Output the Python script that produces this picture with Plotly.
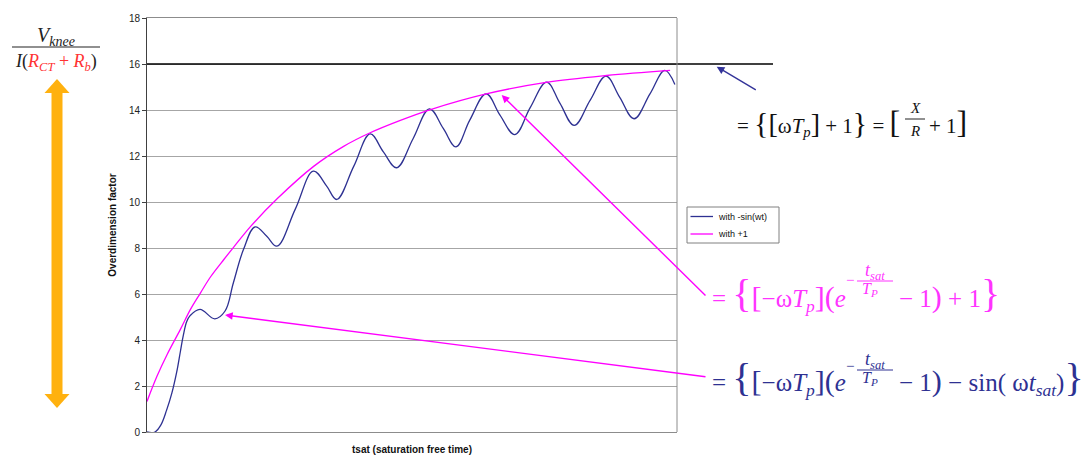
import plotly.graph_objects as go

# ---------------- data ----------------
tsat_plus1 = [0.0, 1.9, 3.8, 6.3, 8.2, 10.1, 12.0, 14.5, 16.4, 19.6, 24.6, 31.5,
              37.1, 42.0, 47.8, 53.5, 64.0, 75.3, 86.7, 98.7]
val_plus1 = [1.33, 2.43, 3.37, 4.46, 5.33, 6.05, 6.75, 7.5, 8.05, 8.95, 10.15, 11.56,
             12.42, 13.0, 13.55, 14.02, 14.7, 15.2, 15.5, 15.72]

tsat_sin = [0.0, 1.5, 2.6, 3.7, 4.7, 5.6, 6.3, 6.85, 7.5, 8.1, 10.0, 12.8, 14.7, 16.3,
            18.2, 20.4, 22.6, 24.5, 28.0, 31.4, 33.9, 35.8, 39.0, 42.1, 44.6,
            47.1, 50.2, 53.3, 55.9, 58.3, 60.9, 64.0, 66.6, 69.4, 72.3, 75.4, 77.9, 80.6,
            83.6, 86.6, 89.2, 91.9, 94.9, 97.7, 99.6]
val_sin = [0.0, 0.0, 0.3, 0.95, 1.7, 2.6, 3.5, 4.2, 4.8, 5.05, 5.33, 4.92, 5.25, 6.49,
           7.93, 8.92, 8.51, 8.08, 9.7, 11.34, 10.69, 10.11, 11.55, 12.96, 12.18,
           11.49, 12.75, 14.05, 13.2, 12.40, 13.56, 14.70, 13.78, 12.93, 14.1, 15.21, 14.3,
           13.33, 14.42, 15.47, 14.55, 13.62, 14.7, 15.72, 15.11]

series_names = ["with -sin(wt)", "with +1"]
limit_value = 16
y_ticks = [0, 2, 4, 6, 8, 10, 12, 14, 16, 18]

# ---------------- layout helpers ----------------
W, H = 1089, 457
L, R, T, B = 147, 677, 18, 432


def PX(x):
    return (x - L) / (R - L)


def PY(y):
    return (B - y) / (B - T)


BLUE = "#2E3192"
MAG = "#FF00FF"
MAGT = "#FF33FF"
SERIF = "Liberation Serif, DejaVu Serif, serif"
SANS = "Arial, Liberation Sans, sans-serif"

fig = go.Figure()
fig.add_trace(go.Scatter(x=tsat_sin, y=val_sin, mode="lines", name=series_names[0],
                         line=dict(color=BLUE, width=1.3, shape="spline", smoothing=1.1)))
fig.add_trace(go.Scatter(x=tsat_plus1, y=val_plus1, mode="lines", name=series_names[1],
                         line=dict(color=MAG, width=1.3, shape="spline", smoothing=1.0)))

shapes = []
# asymptote line at 16 (extends beyond plot)
shapes.append(dict(type="line", xref="paper", yref="y", x0=0, x1=PX(773),
                   y0=limit_value, y1=limit_value, line=dict(color="black", width=1.6)))
# right border of plot
shapes.append(dict(type="line", xref="paper", yref="paper", x0=1, x1=1, y0=0, y1=1,
                   line=dict(color="#8c8c8c", width=1)))
# orange double arrow
ORANGE = "#FFB10F"
shapes.append(dict(type="rect", xref="paper", yref="paper", x0=PX(51.5), x1=PX(62.5),
                   y0=PY(395), y1=PY(92), fillcolor=ORANGE, line=dict(width=0)))
shapes.append(dict(type="path", xref="paper", yref="paper",
                   path=f"M {PX(44.5)},{PY(93)} L {PX(57)},{PY(79)} L {PX(69.5)},{PY(93)} Z",
                   fillcolor=ORANGE, line=dict(width=0)))
shapes.append(dict(type="path", xref="paper", yref="paper",
                   path=f"M {PX(44.5)},{PY(394)} L {PX(57)},{PY(408)} L {PX(69.5)},{PY(394)} Z",
                   fillcolor=ORANGE, line=dict(width=0)))
# left fraction bar
shapes.append(dict(type="line", xref="paper", yref="paper", x0=PX(12), x1=PX(100),
                   y0=PY(47), y1=PY(47), line=dict(color="#222", width=1.2)))
# X/R fraction bar
shapes.append(dict(type="line", xref="paper", yref="paper", x0=PX(905), x1=PX(925),
                   y0=PY(119), y1=PY(119), line=dict(color="#222", width=1)))
# exponent fraction bars
shapes.append(dict(type="line", xref="paper", yref="paper", x0=PX(857), x1=PX(893),
                   y0=PY(281), y1=PY(281), line=dict(color=MAGT, width=1)))
shapes.append(dict(type="line", xref="paper", yref="paper", x0=PX(857), x1=PX(893),
                   y0=PY(370), y1=PY(370), line=dict(color=BLUE, width=1)))

# manual legend box and samples
shapes.append(dict(type="rect", xref="paper", yref="paper", x0=PX(687), x1=PX(779),
                   y0=PY(243), y1=PY(207), fillcolor="white", line=dict(color="#808080", width=1)))
shapes.append(dict(type="line", xref="paper", yref="paper", x0=PX(690.5), x1=PX(713),
                   y0=PY(216.5), y1=PY(216.5), line=dict(color=BLUE, width=1.3)))
shapes.append(dict(type="line", xref="paper", yref="paper", x0=PX(690.5), x1=PX(713),
                   y0=PY(234), y1=PY(234), line=dict(color=MAG, width=1.3)))

ann = []


def text(x, y, t, size, color, xanchor="center", family=SERIF):
    ann.append(dict(x=PX(x), y=PY(y), xref="paper", yref="paper", text=t, showarrow=False,
                    xanchor=xanchor, yanchor="middle", font=dict(family=family, size=size, color=color)))


def arrow(hx, hy, tx, ty, color):
    ann.append(dict(x=PX(hx), y=PY(hy), xref="paper", yref="paper", text="", showarrow=True,
                    ax=tx - hx, ay=ty - hy, axref="pixel", ayref="pixel",
                    arrowhead=2, arrowsize=1.1, arrowwidth=1.4, arrowcolor=color))


def big(ch, size):
    return f"<span style='font-size:{size}px'>{ch}</span>"


# legend texts
text(716, 216.5, series_names[0], 9, "#111", xanchor="left", family=SANS)
text(716, 234, series_names[1], 9, "#111", xanchor="left", family=SANS)

# left fraction
text(56, 37, "<i>V</i><sub><i>knee</i></sub>", 20, "#222")
text(56, 62, "<i>I</i>(<span style='color:#ff3333'><i>R</i><sub><i>CT</i></sub> + <i>R</i><sub><i>b</i></sub></span>)",
     18, "#222")

# black formula
text(902, 122, "= " + big("{", 30) + big("[", 28) + "ω<i>T</i><sub><i>p</i></sub>" + big("]", 28)
     + " + 1" + big("}", 30) + " = " + big("[", 32), 21, "#111", xanchor="right")
text(915, 108, "<i>X</i>", 15, "#111")
text(915, 131, "<i>R</i>", 15, "#111")
text(927, 122, "+ 1" + big("]", 32), 21, "#111", xanchor="left")

# magenta formula
text(848, 293, "= " + big("{", 40) + big("[", 30) + "−ω<i>T</i><sub><i>p</i></sub>" + big("]", 30)
     + big("(", 30) + "<i>e</i>", 25, MAGT, xanchor="right")
text(850, 280, "−", 15, MAGT)
text(875, 271, "<i>t</i><sub><i>sat</i></sub>", 18, MAGT)
text(870, 289, "<i>T</i><sub><i>P</i></sub>", 16, MAGT)
text(897, 293, "− 1" + big(")", 30) + " + 1" + big("}", 40), 25, MAGT, xanchor="left")

# blue formula
text(848, 377, "= " + big("{", 40) + big("[", 30) + "−ω<i>T</i><sub><i>p</i></sub>" + big("]", 30)
     + big("(", 30) + "<i>e</i>", 25, BLUE, xanchor="right")
text(850, 366, "−", 15, BLUE)
text(875, 360, "<i>t</i><sub><i>sat</i></sub>", 18, BLUE)
text(870, 378, "<i>T</i><sub><i>P</i></sub>", 16, BLUE)
text(897, 377, "− 1" + big(")", 30) + " − sin( ω<i>t</i><sub><i>sat</i></sub>)" + big("}", 40),
     25, BLUE, xanchor="left")

# arrows
arrow(716.7, 66.7, 757.3, 90.7, "#333399")
arrow(501.7, 95, 707, 297, MAG)
arrow(225, 315, 707, 377, MAG)

fig.update_layout(
    width=W, height=H,
    margin=dict(l=L, r=W - R, t=T, b=H - B, autoexpand=False),
    paper_bgcolor="white", plot_bgcolor="white",
    shapes=shapes, annotations=ann,
    showlegend=False,
    xaxis=dict(range=[0, 100], showticklabels=False, showgrid=False, zeroline=False,
               showline=True, linecolor="#8c8c8c", mirror=True, ticks="",
               title=dict(text="<b>tsat (saturation free time)</b>", standoff=13,
                          font=dict(family=SANS, size=10, color="#111"))),
    yaxis=dict(range=[0, 18], tickvals=y_ticks, ticks="outside", ticklen=4,
               tickcolor="#404040", showline=True, linecolor="#404040", linewidth=1,
               showgrid=True, gridcolor="#a6a6a6", gridwidth=1, zeroline=False,
               tickfont=dict(family=SANS, size=10, color="#222"),
               title=dict(text="<b>Overdimension factor</b>", standoff=10,
                          font=dict(family=SANS, size=10, color="#111"))),
)

fig.write_html("out.html", config={"displayModeBar": False},
               post_script="document.body.style.margin='0px';")
